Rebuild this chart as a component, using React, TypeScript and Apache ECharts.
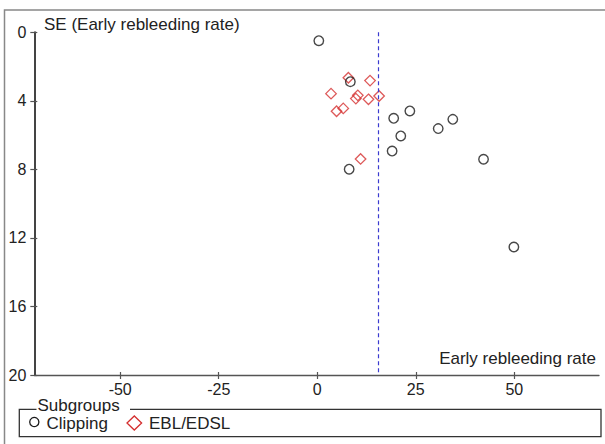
import React, { useEffect, useRef } from "react";
import * as echarts from "echarts";

// Data
const clippingRate = [0.4, 8.4, 8.1, 19.4, 23.5, 21.2, 19.0, 30.7, 34.4, 42.2, 49.9];
const clippingSE = [0.49, 2.88, 7.99, 5.02, 4.59, 6.05, 6.93, 5.62, 5.08, 7.41, 12.53];
const eblRate = [7.9, 13.4, 3.5, 10.3, 9.8, 13.0, 15.7, 6.6, 4.9, 11.0];
const eblSE = [2.65, 2.82, 3.58, 3.68, 3.87, 3.91, 3.72, 4.44, 4.61, 7.39];
const pooledRate = 15.6;
const xTicks = [-50, -25, 0, 25, 50];
const seriesNames = ["Clipping", "EBL/EDSL"];
const yAxisName = "SE (Early rebleeding rate)";
const xAxisName = "Early rebleeding rate";
const legendTitle = "Subgroups";

const FONT = "'Liberation Sans', Arial, sans-serif";

export default function App() {
  const ref = useRef<HTMLDivElement>(null);
  useEffect(() => {
    document.body.style.margin = "0";
    if (!ref.current) return;
    const chart = echarts.init(ref.current, undefined, { renderer: "svg" });
    const xMin = -71.8;
    const xMax = 71.5;
    const gl = 34.3, gt = 32.3, gr = 599, gb = 375;
    const option: any = {
      animation: false,
      backgroundColor: "#ffffff",
      grid: { left: gl, top: gt, width: gr - gl, height: gb - gt, outerBoundsMode: "none" },
      xAxis: [
        {
          type: "value", min: xMin, max: xMax, position: "bottom",
          axisLine: { show: true, onZero: false, lineStyle: { color: "#555", width: 1.3 } },
          axisTick: { show: true, inside: false, length: 4, customValues: xTicks, lineStyle: { color: "#555", width: 1.2 } },
          axisLabel: { show: true, customValues: xTicks, margin: 6, fontSize: 16, color: "#222", fontFamily: FONT },
          splitLine: { show: false },
        },
        {
          type: "value", min: xMin, max: xMax, position: "bottom",
          axisLine: { show: false, onZero: false },
          axisTick: { show: true, inside: true, length: 3, customValues: xTicks, lineStyle: { color: "#555", width: 1.2 } },
          axisLabel: { show: false },
          splitLine: { show: false },
        },
      ],
      yAxis: [
        {
          type: "value", min: 0, max: 20, interval: 4, inverse: true, position: "left",
          axisLine: { show: true, onZero: false, lineStyle: { color: "#444", width: 2 } },
          axisTick: { show: true, inside: false, length: 4, lineStyle: { color: "#555", width: 1.2 } },
          axisLabel: { show: true, margin: 8, fontSize: 16, color: "#222", fontFamily: FONT },
          splitLine: { show: false },
        },
        {
          type: "value", min: 0, max: 20, interval: 4, inverse: true, position: "left",
          axisLine: { show: false, onZero: false },
          axisTick: { show: true, inside: true, length: 3, lineStyle: { color: "#555", width: 1.2 } },
          axisLabel: { show: false },
          splitLine: { show: false },
        },
      ],
      series: [
        {
          name: seriesNames[1], type: "scatter", xAxisIndex: 0, yAxisIndex: 0,
          symbol: "diamond", symbolSize: 10.5,
          itemStyle: { color: "rgba(0,0,0,0)", borderColor: "#d42f2f", borderWidth: 1.3 },
          data: eblRate.map((x, i) => [x, eblSE[i]]),
          markLine: {
            silent: true, symbol: "none", label: { show: false },
            lineStyle: { color: "#3b3bd0", type: [4, 3], width: 1.2 },
            data: [{ xAxis: pooledRate }],
          },
        },
        {
          name: seriesNames[0], type: "scatter", xAxisIndex: 0, yAxisIndex: 0,
          symbol: "circle", symbolSize: 9.5,
          itemStyle: { color: "rgba(0,0,0,0)", borderColor: "#1a1a1a", borderWidth: 1.4 },
          data: clippingRate.map((x, i) => [x, clippingSE[i]]),
        },
      ],
      graphic: [
        // outer frame
        { type: "rect", shape: { x: 4.5, y: 10, width: 700, height: 500 }, style: { fill: "none", stroke: "#888", lineWidth: 1.5 }, silent: true },
        { type: "text", x: 44, y: 24.5, style: { text: yAxisName, fontSize: 17, fontFamily: FONT, fill: "#222", verticalAlign: "middle", align: "left" } },
        { type: "text", x: 596, y: 358, style: { text: xAxisName, fontSize: 17, fontFamily: FONT, fill: "#222", verticalAlign: "middle", align: "right" } },
        // legend box
        { type: "polyline", shape: { points: [[36.5, 409.3], [19.3, 409.3], [19.3, 436.7], [601, 436.7], [601, 409.3], [130, 409.3]] }, style: { fill: "none", stroke: "#333", lineWidth: 1.3 }, silent: true },
        { type: "text", x: 37.5, y: 405.5, style: { text: legendTitle, fontSize: 17, fontFamily: FONT, fill: "#222", verticalAlign: "middle", align: "left" } },
        { type: "circle", shape: { cx: 34.3, cy: 422, r: 4.6 }, style: { fill: "none", stroke: "#1a1a1a", lineWidth: 1.3 } },
        { type: "text", x: 46.5, y: 423, style: { text: seriesNames[0], fontSize: 17, fontFamily: FONT, fill: "#222", verticalAlign: "middle", align: "left" } },
        { type: "polygon", shape: { points: [[127, 423], [134.3, 416], [141.6, 423], [134.3, 430]] }, style: { fill: "none", stroke: "#d42f2f", lineWidth: 1.3 } },
        { type: "text", x: 149, y: 423, style: { text: seriesNames[1], fontSize: 17, fontFamily: FONT, fill: "#222", verticalAlign: "middle", align: "left" } },
      ],
    };
    chart.setOption(option);
    return () => chart.dispose();
  }, []);
  return <div ref={ref} style={{ width: 605, height: 444 }} />;
}
